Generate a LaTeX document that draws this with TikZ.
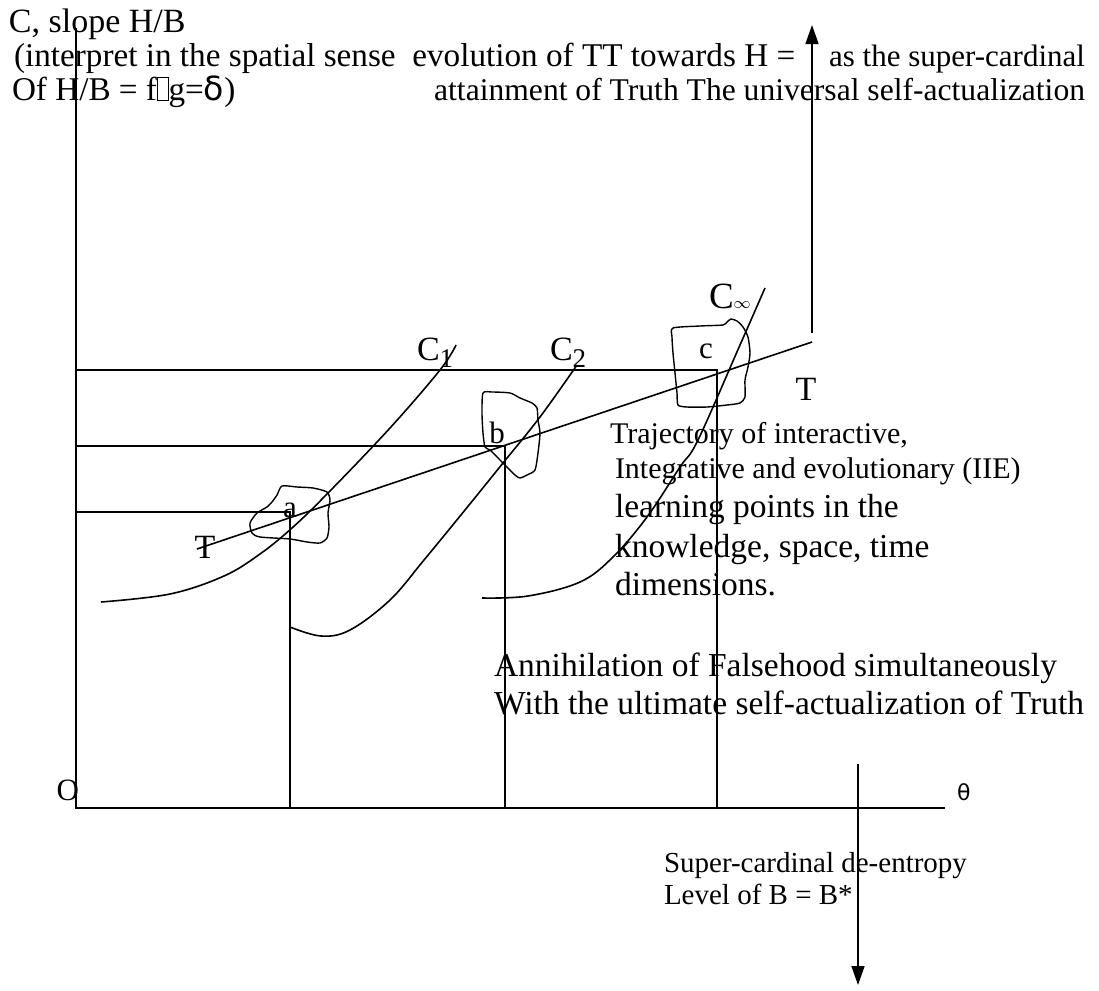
\documentclass[tikz,border=0pt]{standalone}
\usepackage{fontspec}
\setmainfont{Liberation Serif}
\newfontfamily\dvsans{DejaVu Sans}
\usetikzlibrary{arrows.meta,calc}
\newcommand{\txt}{\fontsize{15.5}{18}\selectfont}
\newcommand{\txthd}{\fontsize{16.6}{19}\selectfont}
\newcommand{\txtat}{\fontsize{15.8}{18}\selectfont}
\newcommand{\txtsm}{\fontsize{15}{18}\selectfont}
\newcommand{\txtbig}{\fontsize{16.75}{19}\selectfont}
\newcommand{\txtlow}{\fontsize{14.5}{17}\selectfont}
\newcommand{\clbl}{\fontsize{17}{17}\selectfont}
\newcommand{\csub}[1]{\raisebox{-3.5pt}{\fontsize{13.5}{13.5}\selectfont #1}}
\newcommand{\nobox}{{\setlength{\fboxsep}{0pt}\setlength{\fboxrule}{0.4pt}\fbox{\rule{0pt}{0.66em}\hspace{0.3em}}}}
\tikzset{
  every node/.style={inner sep=0pt, outer sep=0pt},
  ln/.style={line width=0.8pt},
  blob/.style={line width=0.7pt},
  arr/.style={line width=0.8pt, -{Triangle[length=9.5pt,width=6.5pt]}},
  lbl/.style={anchor=base west, font=\txt},
}
\begin{document}
\begin{tikzpicture}[x=0.5pt, y=-0.5pt]
    \useasboundingbox (0,0) rectangle (1099,991);
    \coordinate (O) at (76,808);
    \coordinate (ytop) at (76,28);
    \coordinate (xend) at (945,808);
    \coordinate (pa) at (290,512);
    \coordinate (pb) at (505,446);
    \coordinate (pc) at (717,370);
    \coordinate (tS) at (197,549);
    \coordinate (tE) at (812,342);
    \coordinate (upS) at (812,333);
    \coordinate (upE) at (812,25);
    \coordinate (dnS) at (858,764);
    \coordinate (dnE) at (858,985);
    \draw[ln] (ytop) -- (O) -- (xend);
    \foreach \p in {pa,pb,pc}
        \draw[ln] (O |- \p) -- (\p) -- (O -| \p);
    \draw[ln] (tS) -- (tE);
    \draw[arr] (upS) -- (upE);
    \draw[arr] (dnS) -- (dnE);
    \draw[ln] plot[smooth, tension=0.6] coordinates {(101,602) (170,594) (224,576) (260,554) (292,528) (328,493) (390,428) (440,370) (456,345)};
    \draw[ln] plot[smooth, tension=0.6] coordinates {(290,627) (321,636) (350,630) (390,600) (424,560) (465,510) (503,463) (540,417) (577,365)};
    \draw[ln] plot[smooth, tension=0.6] coordinates {(482,598) (528,596) (580,582) (613,557) (647,517) (680,467) (698,440) (740,345) (765,288)};
    \draw[blob] plot[smooth cycle, tension=0.4] coordinates {(282,486) (297,487) (313,488) (327,492) (330,500) (328,513) (329,527) (327,538) (320,543) (307,542) (290,539) (260,537) (252,533) (250,523) (257,513) (267,507) (272,502) (277,495)};
    \draw[blob] plot[smooth cycle, tension=0.4] coordinates {(483,393) (492,392) (510,393) (520,398) (532,403) (537,408) (538,420) (540,433) (538,453) (535,470) (527,475) (520,478) (515,475) (500,460) (490,450) (485,447) (483,433) (482,413)};
    \draw[blob] plot[smooth cycle, tension=0.4] coordinates {(673,328) (700,326) (723,325) (727,322) (731,319) (737,321) (743,327) (748,337) (750,353) (748,367) (745,380) (745,397) (740,403) (727,405) (707,407) (687,407) (678,405) (677,393) (675,373) (673,353) (672,337)};
    \node[lbl, font=\clbl] (hd1) at (9,32) {C, slope H/B};
    \node[lbl, font=\txthd] (hd2) at (14,66) {(interpret in the spatial sense\ \ evolution of TT towards H =};
    \node[lbl, anchor=base east] (hd3) at (1085,66) {as the super-cardinal};
    \node[lbl, font=\txthd] (hd4) at (12,100) {Of H/B = f\nobox g={\dvsans δ})};
    \node[lbl, font=\txtat, anchor=base east] (hd5) at (1085,100) {attainment of Truth The universal self-actualization};
    \node[lbl, font=\clbl] (cone) at (417,360) {C\csub{1}};
    \node[lbl, font=\clbl] (ctwo) at (550,360) {C\csub{2}};
    \node[lbl, font=\fontsize{18.5}{18.5}\selectfont] (cinf) at (709,308) {C{\fontsize{8.5}{8.5}\selectfont$\infty$}};
    \node[anchor=base, font=\txt] (la) at (290,517) {a};
    \node[anchor=base, font=\txt] (lb) at (497,443) {b};
    \node[anchor=base, font=\txt] (lc) at (706,358) {c};
    \node[anchor=base, font=\clbl] (tl) at (205,558) {T};
    \node[anchor=base, font=\clbl] (tr) at (806,400) {T};
    \node[lbl, font=\txtsm] (tj1) at (610,443) {Trajectory of interactive,};
    \node[lbl, font=\txtsm] (tj2) at (615,478) {Integrative and evolutionary (IIE)};
    \node[lbl, font=\txtbig] (tj3) at (615,517) {learning points in the};
    \node[lbl, font=\txtbig] (tj4) at (615,557) {knowledge, space, time};
    \node[lbl, font=\txtbig] (tj5) at (615,595) {dimensions.};
    \node[lbl, font=\txtbig] (an1) at (494,676) {Annihilation of Falsehood simultaneously};
    \node[lbl, font=\txtbig] (an2) at (494,714) {With the ultimate self-actualization of Truth};
    \node[lbl, font=\txtlow] (sc1) at (664,872) {Super-cardinal de-entropy};
    \node[lbl, font=\txtlow] (sc2) at (664,904) {Level of B = B*};
    \node[anchor=base east, font=\txt] (lo) at (79,800) {O};
    \node[anchor=base west, font=\dvsans\fontsize{11}{11}\selectfont] (lth) at (957,800) {θ};
\end{tikzpicture}
\end{document}
